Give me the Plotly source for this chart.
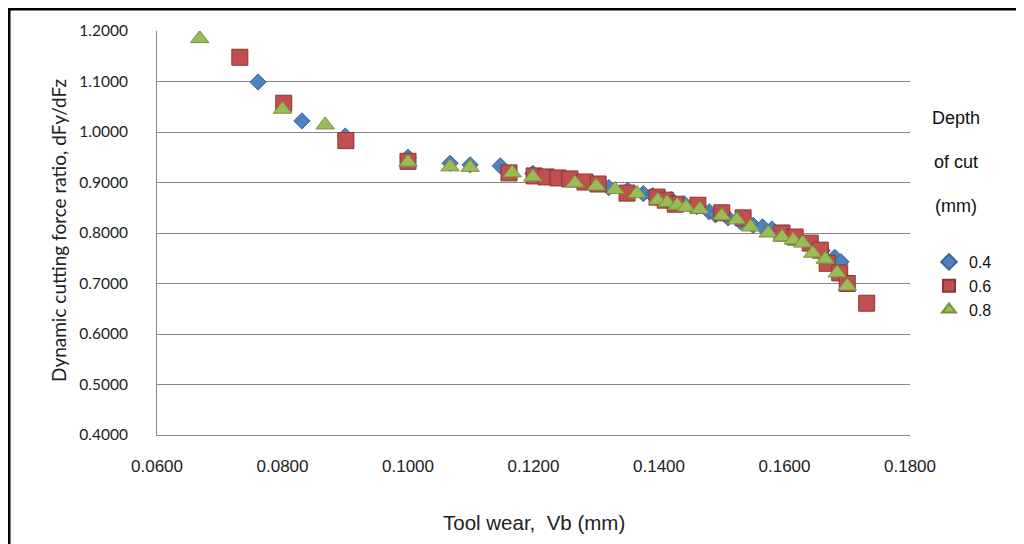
import plotly.graph_objects as go

# ---------------- data ----------------
depth_labels = ["0.4", "0.6", "0.8"]

x_04 = [0.0761, 0.0831, 0.0900, 0.1000, 0.1067, 0.1099, 0.1147, 0.1199, 0.1290, 0.1320,
        0.1350, 0.1375, 0.1390, 0.1420, 0.1440, 0.1460, 0.1480, 0.1490, 0.1510, 0.1530,
        0.1550, 0.1565, 0.1580, 0.1600, 0.1620, 0.1640, 0.1660, 0.1680, 0.1690, 0.1700]
y_04 = [1.099, 1.022, 0.992, 0.950, 0.938, 0.935, 0.933, 0.918, 0.900, 0.890,
        0.885, 0.878, 0.874, 0.866, 0.858, 0.852, 0.842, 0.836, 0.830, 0.822,
        0.815, 0.812, 0.808, 0.800, 0.790, 0.777, 0.765, 0.752, 0.743, 0.700]

x_06 = [0.0732, 0.0802, 0.0901, 0.1000, 0.1161, 0.1201, 0.1220, 0.1239, 0.1258, 0.1282,
        0.1303, 0.1349, 0.1397, 0.1410, 0.1426, 0.1462, 0.1500, 0.1534, 0.1596, 0.1617,
        0.1641, 0.1657, 0.1668, 0.1688, 0.1700, 0.1731]
y_06 = [1.148, 1.057, 0.983, 0.942, 0.919, 0.913, 0.911, 0.909, 0.907, 0.901,
        0.897, 0.879, 0.871, 0.865, 0.857, 0.855, 0.840, 0.830, 0.800, 0.792,
        0.780, 0.766, 0.740, 0.721, 0.700, 0.661]

x_08 = [0.0668, 0.0800, 0.0868, 0.1000, 0.1067, 0.1099, 0.1166, 0.1199, 0.1266, 0.1300,
        0.1330, 0.1365, 0.1398, 0.1413, 0.1429, 0.1443, 0.1465, 0.1500, 0.1524, 0.1546,
        0.1574, 0.1596, 0.1614, 0.1629, 0.1645, 0.1665, 0.1684, 0.1700]
y_08 = [1.185, 1.045, 1.014, 0.940, 0.931, 0.930, 0.919, 0.911, 0.899, 0.893,
        0.886, 0.878, 0.865, 0.860, 0.855, 0.851, 0.847, 0.834, 0.826, 0.812,
        0.800, 0.792, 0.786, 0.780, 0.760, 0.748, 0.721, 0.695]

x_ticks = [0.06, 0.08, 0.10, 0.12, 0.14, 0.16, 0.18]
y_ticks = [0.4, 0.5, 0.6, 0.7, 0.8, 0.9, 1.0, 1.1, 1.2]

# ---------------- layout geometry (page pixels; page body has an 8px margin) ----------------
OFF = 8
W, H = 1024 - OFF, 544 - OFF
PL, PR, PT, PB = 157, 910, 31, 435          # plot area in page pixels
L, T = PL - OFF, PT - OFF
R, B = W - (PR - OFF), H - (PB - OFF)
pw, ph = PR - PL, PB - PT


def px_x(p):
    return (p - PL) / pw


def px_y(p):
    return (PB - p) / ph


series = [
    (x_04, y_04, depth_labels[0], "diamond", 12.5, "#4F81BD", "#3A6597"),
    (x_06, y_06, depth_labels[1], "square", 16, "#C0504D", "#8E3431"),
    (x_08, y_08, depth_labels[2], "triangle-up", 16, "#9BBB59", "#76923C"),
]

fig = go.Figure()
for xs, ys, name, sym, size, fill, edge in series:
    fig.add_trace(go.Scatter(
        x=xs, y=ys, mode="markers", name=name,
        marker=dict(symbol=sym, size=size, color=fill, line=dict(color=edge, width=1)),
    ))

grid = "#868686"
fig.update_layout(
    width=W, height=H,
    margin=dict(l=L, r=R, t=T, b=B, pad=0),
    paper_bgcolor="white", plot_bgcolor="white",
    showlegend=True,
    legend=dict(
        x=px_x(929), y=px_y(245), xanchor="left", yanchor="top",
        font=dict(family="Liberation Sans, Arial", size=16, color="#111111"),
        itemsizing="constant", bgcolor="rgba(0,0,0,0)", tracegroupgap=0,
    ),
    xaxis=dict(
        range=[0.06, 0.18], tickvals=x_ticks, tickformat=".4f",
        showgrid=False, zeroline=False, ticks="",
        showline=True, linecolor=grid, linewidth=1,
        tickfont=dict(family="Liberation Sans Narrow, Arial Narrow, Liberation Sans", size=17, color="#222222"),
        ticklabelstandoff=16,
    ),
    yaxis=dict(
        range=[0.4, 1.2], tickvals=y_ticks, tickformat=".4f",
        showgrid=True, gridcolor=grid, gridwidth=1, zeroline=False, ticks="",
        showline=True, linecolor=grid, linewidth=1,
        tickfont=dict(family="Lato, Open Sans", size=15.5, color="#222222"),
        ticklabelstandoff=25,
    ),
    annotations=[
        dict(text="Dynamic cutting force ratio, dFy/dFz", textangle=-90,
             xref="paper", yref="paper", x=px_x(58), y=px_y(231),
             xanchor="center", yanchor="middle", showarrow=False,
             font=dict(family="Lato, Open Sans", size=19, color="#222222")),
        dict(text="Tool wear,  Vb (mm)",
             xref="paper", yref="paper", x=px_x(534), y=px_y(522),
             xanchor="center", yanchor="middle", showarrow=False,
             font=dict(family="Liberation Sans Narrow, Arial Narrow, Liberation Sans", size=20.5, color="#222222")),
        dict(text="Depth", xref="paper", yref="paper", x=px_x(956), y=px_y(118),
             xanchor="center", yanchor="middle", showarrow=False,
             font=dict(family="Liberation Sans, Arial", size=18, color="#111111")),
        dict(text="of cut", xref="paper", yref="paper", x=px_x(956), y=px_y(162),
             xanchor="center", yanchor="middle", showarrow=False,
             font=dict(family="Liberation Sans, Arial", size=18, color="#111111")),
        dict(text="(mm)", xref="paper", yref="paper", x=px_x(956), y=px_y(206),
             xanchor="center", yanchor="middle", showarrow=False,
             font=dict(family="Liberation Sans, Arial", size=18, color="#111111")),
    ],
    shapes=[
        dict(type="line", xref="paper", yref="paper", x0=px_x(OFF), x1=px_x(1024),
             y0=px_y(OFF + 1), y1=px_y(OFF + 1), line=dict(color="black", width=3)),
        dict(type="line", xref="paper", yref="paper", x0=px_x(9), x1=px_x(9),
             y0=px_y(OFF), y1=px_y(544), line=dict(color="black", width=3)),
    ],
)

fig.write_html("out.html")
